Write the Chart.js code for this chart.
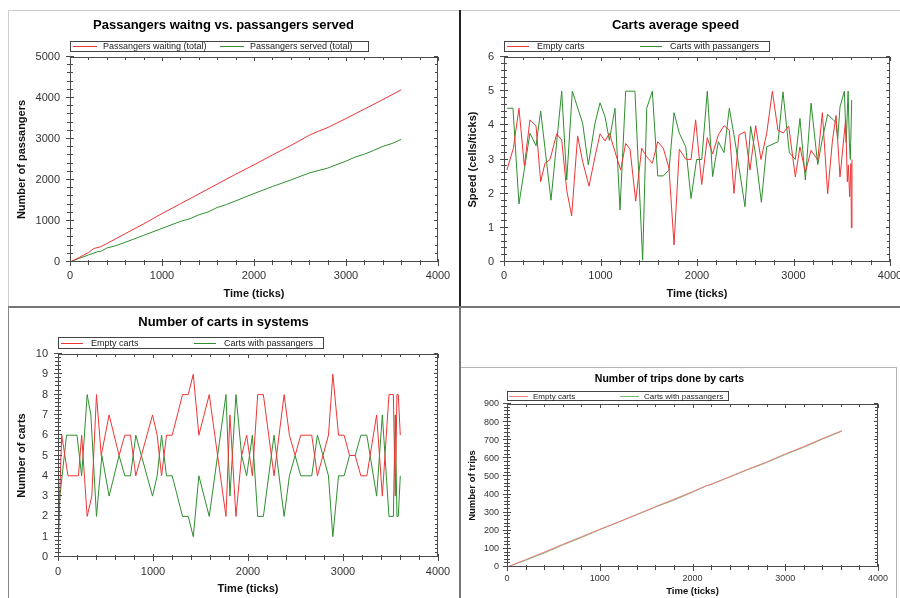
<!doctype html>
<html lang="en">
<head>
  <meta charset="utf-8">
  <title>Carts simulation</title>
  <script src="https://cdn.jsdelivr.net/npm/chart.js@4.4.0/dist/chart.umd.min.js"></script>
  <style>
    body { margin: 0; width: 900px; height: 598px; overflow: hidden; background: #fff; position: relative; }
    .ln { position: absolute; }
    canvas { position: absolute; }
  </style>
</head>
<body>
  <!-- panel borders -->
  <div class="ln" style="left:8px;top:10px;width:892px;height:1px;background:#cfcfcf"></div>
  <div class="ln" style="left:8px;top:10px;width:1px;height:297px;background:#cfcfcf"></div>
  <div class="ln" style="left:459px;top:10px;width:2px;height:297px;background:#222"></div>
  <div class="ln" style="left:8px;top:306px;width:892px;height:2px;background:#777"></div>
  <div class="ln" style="left:8px;top:307px;width:1px;height:291px;background:#888"></div>
  <div class="ln" style="left:459px;top:307px;width:2px;height:291px;background:#777"></div>
  <div class="ln" style="left:461px;top:367px;width:436px;height:1px;background:#b5b5b5"></div>
  <div class="ln" style="left:896px;top:367px;width:1px;height:231px;background:#b5b5b5"></div>

  <canvas id="c1" width="451" height="296" style="left:9px;top:11px"></canvas>
  <canvas id="c2" width="439" height="296" style="left:461px;top:11px"></canvas>
  <canvas id="c3" width="451" height="290" style="left:9px;top:308px"></canvas>
  <canvas id="c4" width="435" height="230" style="left:461px;top:368px"></canvas>

<script>
// ---- chart 1: passengers waiting vs served ----
const waitT = [0, 100, 200, 260, 330, 400, 600, 800, 1000, 1200, 1400, 1600, 1800, 2000, 2200, 2400, 2600, 2700, 2760, 2820, 3000, 3200, 3400, 3600];
const waitV = [0, 110, 230, 330, 370, 450, 690, 930, 1180, 1420, 1660, 1900, 2140, 2370, 2610, 2840, 3090, 3190, 3240, 3300, 3500, 3730, 3960, 4200];
const servedT = [0, 100, 200, 300, 340, 400, 500, 600, 800, 1000, 1200, 1300, 1400, 1500, 1600, 1700, 1800, 2000, 2200, 2400, 2600, 2800, 3000, 3100, 3200, 3300, 3400, 3500, 3600];
const servedV = [0, 90, 170, 250, 265, 340, 400, 480, 650, 820, 990, 1050, 1150, 1220, 1330, 1400, 1490, 1670, 1840, 2000, 2170, 2290, 2460, 2560, 2630, 2720, 2820, 2890, 2990];

// ---- chart 2: average speed ----
const spdEmptyT = [30, 97, 155, 211, 269, 332, 380, 425, 477, 546, 598, 650, 701, 763, 815, 881, 943, 995, 1047, 1092, 1150, 1209, 1261, 1306, 1365, 1427, 1479, 1537, 1593, 1651, 1710, 1762, 1817, 1883, 1938, 1986, 2049, 2107, 2162, 2221, 2280, 2335, 2383, 2435, 2497, 2549, 2608, 2663, 2722, 2781, 2839, 2894, 2950, 3019, 3067, 3123, 3182, 3251, 3299, 3354, 3403, 3441, 3482, 3540, 3558, 3568, 3582, 3595, 3600, 3606];
const spdEmptyV = [2.69, 3.33, 4.5, 2.81, 4.16, 3.98, 2.35, 2.89, 3.0, 3.75, 3.57, 2.1, 1.35, 3.69, 2.94, 2.22, 3.08, 3.75, 3.54, 3.77, 3.23, 2.69, 3.47, 3.3, 1.78, 3.33, 3.08, 2.89, 3.52, 3.33, 2.74, 0.5, 3.3, 3.01, 3.0, 4.16, 2.27, 3.64, 3.16, 3.72, 3.99, 3.86, 2.01, 3.72, 3.81, 2.69, 3.99, 3.0, 3.76, 5.0, 3.85, 3.78, 3.98, 2.49, 3.37, 2.63, 3.27, 2.98, 4.37, 2.0, 3.54, 4.29, 2.49, 4.16, 2.35, 2.84, 1.91, 2.88, 1.0, 3.0];
const spdPassT = [30, 93, 155, 269, 332, 380, 487, 598, 650, 708, 815, 874, 943, 995, 1047, 1092, 1150, 1202, 1261, 1357, 1437, 1479, 1537, 1593, 1651, 1710, 1762, 1817, 1883, 1938, 1996, 2049, 2107, 2162, 2221, 2280, 2335, 2394, 2497, 2556, 2604, 2667, 2722, 2840, 2891, 2957, 3019, 3067, 3123, 3182, 3251, 3299, 3354, 3441, 3458, 3482, 3527, 3546, 3566, 3579, 3589, 3603];
const spdPassV = [4.5, 4.5, 1.7, 3.77, 3.4, 4.42, 1.81, 5.0, 2.4, 5.0, 4.06, 2.84, 4.06, 4.66, 4.25, 3.56, 4.5, 1.52, 5.0, 5.0, 0.05, 4.5, 5.0, 2.52, 2.52, 2.69, 4.37, 3.77, 3.37, 1.86, 3.0, 3.0, 5.0, 2.5, 3.52, 3.2, 4.5, 3.54, 1.62, 3.97, 3.2, 1.75, 3.37, 3.52, 4.98, 3.2, 3.0, 4.2, 2.4, 4.65, 2.85, 3.6, 4.32, 4.08, 3.6, 4.54, 5.0, 3.5, 5.0, 3.5, 3.0, 4.74];

// ---- chart 3: number of carts ----
const cartsEmptyT = [0, 39, 105, 215, 249, 307, 356, 405, 455, 538, 643, 703, 763, 819, 995, 1044, 1090, 1142, 1202, 1311, 1371, 1424, 1483, 1592, 1768, 1810, 1873, 1933, 1986, 2046, 2102, 2162, 2274, 2380, 2436, 2496, 2555, 2671, 2731, 2847, 2893, 2953, 3012, 3069, 3128, 3188, 3251, 3354, 3414, 3484, 3530, 3550, 3568, 3582, 3603];
const cartsEmptyV = [0.5, 6, 4, 4, 6, 2, 3, 8, 5, 7, 5, 6, 6, 4, 7, 6, 4, 6, 6, 8, 8, 9, 6, 8, 2, 7, 2, 5, 6, 4, 8, 8, 4, 8, 6, 5, 6, 6, 4, 6, 9, 6, 6, 5, 5, 4, 4, 7, 3, 8, 8, 3, 8, 8, 6];
const cartsPassT = [0, 20, 90, 200, 249, 307, 346, 405, 462, 538, 643, 703, 763, 819, 995, 1044, 1090, 1142, 1202, 1311, 1371, 1424, 1483, 1592, 1768, 1810, 1873, 1933, 1986, 2046, 2102, 2162, 2274, 2380, 2436, 2496, 2555, 2671, 2731, 2847, 2893, 2953, 3012, 3069, 3128, 3188, 3251, 3354, 3414, 3484, 3530, 3550, 3568, 3582, 3603];
const cartsPassV = [0.3, 3, 6, 6, 4, 8, 7, 2, 5, 3, 5, 4, 4, 6, 3, 4, 6, 4, 4, 2, 2, 1, 4, 2, 8, 3, 8, 5, 4, 6, 2, 2, 6, 2, 4, 5, 4, 4, 6, 4, 1, 4, 4, 5, 5, 6, 6, 3, 7, 2, 2, 7, 2, 2, 4];

// ---- chart 4: trips ----
const tripsT = [0, 200, 400, 600, 800, 1000, 1200, 1400, 1600, 1800, 2000, 2150, 2200, 2400, 2600, 2800, 3000, 3200, 3400, 3610];
const tripsEmptyV = [0, 40, 82, 125, 166, 208, 248, 290, 333, 374, 416, 449, 455, 498, 540, 580, 624, 665, 709, 752];
const tripsPassV = [0, 37, 77, 121, 162, 206, 247, 289, 331, 369, 413, 448, 457, 497, 538, 577, 621, 661, 706, 750];

const RED = '#ee3535', GREEN = '#2f8f2f';
const FONT = '"Liberation Sans", Arial, sans-serif';
Chart.defaults.font.family = FONT;
Chart.defaults.color = '#333';

function pts(ts, vs) { return ts.map((t, i) => ({ x: t, y: vs[i] })); }

// frame around the plot with major / minor ticks on all four sides
const frameTicks = {
  id: 'frameTicks',
  afterDatasetsDraw(chart) {
    const { ctx, chartArea: a, scales: { x, y } } = chart;
    ctx.save();
    ctx.strokeStyle = '#4a4a4a';
    ctx.lineWidth = 1;
    ctx.strokeRect(a.left + 0.5, a.top + 0.5, a.right - a.left - 1, a.bottom - a.top - 1);
    ctx.beginPath();
    const xs = x.options.ticks.stepSize / 5, ys = y.options.ticks.stepSize / 5;
    for (let i = 0; x.min + i * xs <= x.max + 1e-6; i++) {
      const p = Math.round(x.getPixelForValue(x.min + i * xs)) + 0.5;
      const m = i % 5 === 0;
      ctx.moveTo(p, a.bottom - (m ? 3 : 2)); ctx.lineTo(p, a.bottom + (m ? 4 : 3));
      ctx.moveTo(p, a.top); ctx.lineTo(p, a.top + (m ? 4 : 3));
    }
    for (let i = 0; y.min + i * ys <= y.max + 1e-6; i++) {
      const p = Math.round(y.getPixelForValue(y.min + i * ys)) - 0.5;
      const m = i % 5 === 0;
      ctx.moveTo(a.left - (m ? 4 : 3), p); ctx.lineTo(a.left + (m ? 4 : 3), p);
      ctx.moveTo(a.right, p); ctx.lineTo(a.right - (m ? 4 : 3), p);
    }
    ctx.stroke();
    ctx.restore();
  }
};

// boxed legend like the original tool draws
const boxLegend = {
  id: 'boxLegend',
  afterDraw(chart, args, o) {
    const ctx = chart.ctx;
    ctx.save();
    ctx.fillStyle = '#fff';
    ctx.fillRect(o.left, o.top, o.width, o.height);
    ctx.strokeStyle = '#444';
    ctx.lineWidth = 1;
    ctx.strokeRect(o.left + 0.5, o.top + 0.5, o.width, o.height);
    ctx.font = o.size + 'px ' + FONT;
    ctx.textBaseline = 'middle';
    const cy = Math.round(o.top + o.height / 2) + 0.5;
    chart.data.datasets.forEach((ds, i) => {
      const x0 = o.left + o.offsets[i];
      ctx.strokeStyle = ds.borderColor;
      ctx.beginPath();
      ctx.moveTo(x0, cy); ctx.lineTo(x0 + o.line, cy);
      ctx.stroke();
      ctx.fillStyle = '#222';
      ctx.fillText(ds.label, x0 + o.line + o.gap, cy);
    });
    ctx.restore();
  }
};

function makeChart(id, cfg) {
  const tickFont = { size: cfg.tick };
  const axTitle = { size: cfg.axis, weight: 'bold' };
  return new Chart(document.getElementById(id), {
    type: 'line',
    data: { datasets: cfg.sets.map(s => ({
      label: s.label, data: s.data, borderColor: s.color, borderWidth: 1,
      pointRadius: 0, tension: 0, fill: false
    })) },
    options: {
      responsive: false,
      animation: false,
      layout: { padding: { left: 0, top: 0, bottom: 0, right: cfg.padRight } },
      plugins: {
        legend: { display: false },
        tooltip: { enabled: false },
        title: {
          display: true, text: cfg.title, color: '#000',
          font: { size: cfg.titleSize, weight: 'bold' },
          padding: cfg.titlePad
        },
        boxLegend: cfg.legend
      },
      scales: {
        x: {
          type: 'linear', min: 0, max: 4000,
          grid: { display: false, drawTicks: false }, border: { display: false },
          ticks: { stepSize: 1000, font: tickFont, padding: cfg.xPad, maxRotation: 0, callback: v => String(v) },
          title: { display: true, text: 'Time (ticks)', color: '#111', font: axTitle, padding: { top: 0, bottom: cfg.xTitlePad } },
          afterFit: s => { s.height = cfg.xHeight; s.paddingLeft = 0; s.paddingRight = 0; }
        },
        y: {
          min: 0, max: cfg.yMax,
          grid: { display: false, drawTicks: false }, border: { display: false },
          ticks: { stepSize: cfg.yStep, font: tickFont, padding: cfg.yPad, callback: v => String(v) },
          title: { display: true, text: cfg.yTitle, color: '#111', font: axTitle, padding: { top: cfg.yTitlePad, bottom: 0 } },
          afterFit: s => { s.width = cfg.yWidth; s.paddingTop = 0; s.paddingBottom = 0; }
        }
      }
    },
    plugins: [frameTicks, boxLegend]
  });
}

makeChart('c1', {
  title: 'Passangers waitng vs. passangers served', titleSize: 13, titlePad: { top: 6.2, bottom: 24.2 },
  tick: 11, axis: 11, yTitle: 'Number of passangers', yMax: 5000, yStep: 1000,
  yWidth: 61, xHeight: 45, padRight: 22, xPad: 7, yPad: 10, xTitlePad: 6.4, yTitlePad: 6.4,
  legend: { left: 61, top: 30, width: 298, height: 10, size: 9, offsets: [3, 150], line: 24, gap: 6 },
  sets: [
    { label: 'Passangers waiting (total)', data: pts(waitT, waitV), color: RED },
    { label: 'Passangers served (total)', data: pts(servedT, servedV), color: GREEN }
  ]
});

makeChart('c2', {
  title: 'Carts average speed', titleSize: 13, titlePad: { top: 6.2, bottom: 24.2 },
  tick: 11, axis: 11, yTitle: 'Speed (cells/ticks)', yMax: 6, yStep: 1,
  yWidth: 43, xHeight: 45, padRight: 10, xPad: 7, yPad: 10, xTitlePad: 6.4, yTitlePad: 5.4,
  legend: { left: 43, top: 30, width: 265, height: 10, size: 9, offsets: [3, 136], line: 22, gap: 8 },
  sets: [
    { label: 'Empty carts', data: pts(spdEmptyT, spdEmptyV), color: RED },
    { label: 'Carts with passangers', data: pts(spdPassT, spdPassV), color: GREEN }
  ]
});

makeChart('c3', {
  title: 'Number of carts in systems', titleSize: 13, titlePad: { top: 6.2, bottom: 24.2 },
  tick: 11, axis: 11, yTitle: 'Number of carts', yMax: 10, yStep: 1,
  yWidth: 49, xHeight: 41, padRight: 22, xPad: 8, yPad: 10, xTitlePad: 2.4, yTitlePad: 6.4,
  legend: { left: 49, top: 29, width: 265, height: 11, size: 9, offsets: [3, 136], line: 22, gap: 8 },
  sets: [
    { label: 'Empty carts', data: pts(cartsEmptyT, cartsEmptyV), color: RED },
    { label: 'Carts with passangers', data: pts(cartsPassT, cartsPassV), color: GREEN }
  ]
});

makeChart('c4', {
  title: 'Number of trips done by carts', titleSize: 10.5, titlePad: { top: 4.7, bottom: 18.7 },
  tick: 9, axis: 9.5, yTitle: 'Number of trips', yMax: 900, yStep: 100,
  yWidth: 46, xHeight: 31, padRight: 18, xPad: 6.6, yPad: 8, xTitlePad: 1.3, yTitlePad: 6,
  legend: { left: 46, top: 23, width: 221, height: 9, size: 8, offsets: [2, 113], line: 19, gap: 5 },
  sets: [
    { label: 'Empty carts', data: pts(tripsT, tripsEmptyV), color: '#f07c7c' },
    { label: 'Carts with passangers', data: pts(tripsT, tripsPassV), color: '#76b876' }
  ]
});
</script>
</body>
</html>
